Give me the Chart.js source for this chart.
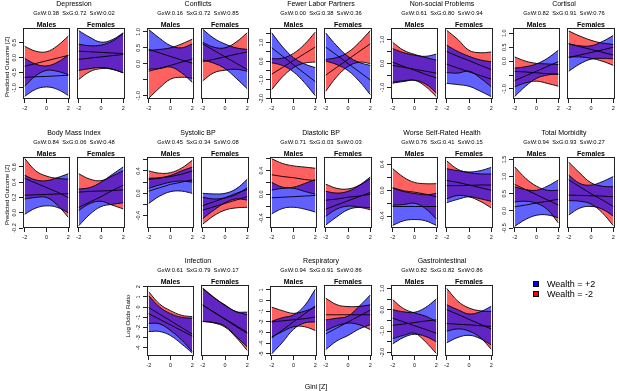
<!DOCTYPE html>
<html><head><meta charset="utf-8">
<script src="https://cdn.jsdelivr.net/npm/chart.js@4.4.1/dist/chart.umd.min.js"></script>
<style>
body{margin:0;background:#fff;}
#wrap{position:relative;width:617px;height:391px;overflow:hidden;background:#fff;font-family:"Liberation Sans",Arial,sans-serif;color:#000;}
.t{position:absolute;transform:translate(-50%,-50%);white-space:pre;line-height:1;}
.rot{transform:translate(-50%,-50%) rotate(-90deg);}
canvas{position:absolute;}
.sw{position:absolute;width:6px;height:6px;border:1px solid #000;box-sizing:border-box;}
</style></head><body><div id="wrap"></div>
<script>
// ---------------- DATA ----------------
const giniX = [-2, -1, 0, 1, 2];
const xTicks = [-2, 0, 2];
const xTickLabels = ['-2', '0', '2'];

const outcomeNames = ['Depression','Conflicts','Fewer Labor Partners','Non-social Problems','Cortisol',
  'Body Mass Index','Systolic BP','Diastolic BP','Worse Self-Rated Health','Total Morbidity',
  'Infection','Respiratory','Gastrointestinal'];
const interactionP = ['GxW:0.38  SxG:0.72  SxW:0.02','GxW:0.16  SxG:0.72  SxW:0.85','GxW:0.00  SxG:0.38  SxW:0.36',
  'GxW:0.61  SxG:0.80  SxW:0.94','GxW:0.82  SxG:0.91  SxW:0.76','GxW:0.84  SxG:0.06  SxW:0.48',
  'GxW:0.45  SxG:0.34  SxW:0.08','GxW:0.71  SxG:0.03  SxW:0.03','GxW:0.76  SxG:0.41  SxW:0.15',
  'GxW:0.94  SxG:0.93  SxW:0.27','GxW:0.61  SxG:0.79  SxW:0.17','GxW:0.94  SxG:0.91  SxW:0.86',
  'GxW:0.82  SxG:0.82  SxW:0.86'];
const sexLabels = ['Males', 'Females'];
const legendLabels = ['Wealth = +2', 'Wealth = -2'];
const yAxisTitles = ['Predicted Outcome [Z]', 'Predicted Outcome [Z]', 'Log Odds Ratio'];
const xAxisTitle = 'Gini [Z]';

const yRanges = [[-1.37,0.99],[-1.1,1.12],[-2.02,1.78],[-1.48,1.48],[-1.36,1.19],
  [-0.2,0.73],[-0.62,0.65],[-0.57,0.63],[-0.58,0.51],[-0.5,1.57],
  [-4.8,2.08],[-5.2,1.38],[-2.17,1.16]];
const yTickValues = [[-1,-0.5,0,0.5],[-1,-0.5,0,0.5,1],[-2,-1.5,-1,-0.5,0,0.5,1,1.5],[-1,-0.5,0,0.5,1],[-1,-0.5,0,0.5,1],
  [-0.2,0,0.2,0.4,0.6],[-0.4,-0.2,0,0.2,0.4,0.6],[-0.4,-0.2,0,0.2,0.4,0.6],[-0.4,-0.2,0,0.2,0.4],[-0.5,0,0.5,1,1.5],
  [-4,-3,-2,-1,0,1,2],[-5,-4,-3,-2,-1,0,1],[-2,-1.5,-1,-0.5,0,0.5,1]];
const yTickLabels = [['-1.0','-0.5','0.0','0.5'],['-1.0','','0.0','0.5','1.0'],['-2.0','','-1.0','','0.0','','1.0',''],
  ['-1.0','','0.0','','1.0'],['-1.0','','0.0','0.5','1.0'],
  ['-0.2','0.0','0.2','0.4','0.6'],['-0.4','','0.0','','0.4',''],['-0.4','','0.0','','0.4',''],['-0.4','','0.0','','0.4'],
  ['-0.5','0.0','0.5','1.0','1.5'],
  ['-4','-3','-2','-1','0','1','2'],['-5','-4','-3','-2','-1','0','1'],['-2.0','','-1.0','','0.0','','1.0']];

// bands: plus = Wealth +2 (blue), minus = Wealth -2 (red); values at giniX
const dep_M_plus  = {lower:[-1.28,-1.05,-0.97,-1.05,-1.25], fit:[-0.65,-0.63,-0.62,-0.60,-0.58], upper:[-0.02,-0.21,-0.27,-0.15,0.09]};
const dep_M_minus = {lower:[-0.94,-0.60,-0.42,-0.45,-0.56], fit:[-0.28,-0.19,-0.10,-0.01,0.08], upper:[0.38,0.22,0.20,0.40,0.72]};
const dep_F_plus  = {lower:[-0.42,-0.36,-0.32,-0.38,-0.50], fit:[0.22,0.20,0.18,0.16,0.14], upper:[0.90,0.68,0.52,0.60,0.83]};
const dep_F_minus = {lower:[-0.72,-0.46,-0.36,-0.38,-0.50], fit:[-0.05,-0.01,0.03,0.07,0.11], upper:[0.45,0.40,0.42,0.55,0.80]};

const con_M_plus  = {lower:[-0.17,-0.15,-0.10,-0.28,-0.58], fit:[0.45,0.34,0.23,0.12,0.02], upper:[1.07,0.80,0.57,0.50,0.62]};
const con_M_minus = {lower:[-1.08,-0.75,-0.48,-0.42,-0.45], fit:[-0.23,-0.14,-0.05,0.05,0.15], upper:[0.42,0.45,0.50,0.62,0.77]};
const con_F_plus  = {lower:[0.12,0.02,-0.15,-0.45,-0.78], fit:[0.62,0.42,0.22,0.02,-0.18], upper:[1.08,0.80,0.62,0.50,0.45]};
const con_F_minus = {lower:[-0.53,-0.28,-0.20,-0.17,-0.23], fit:[0.07,0.14,0.22,0.30,0.37], upper:[0.67,0.52,0.50,0.68,0.97]};

const flp_M_plus  = {lower:[-0.08,-0.23,-0.57,-1.14,-1.84], fit:[0.72,0.27,-0.19,-0.64,-1.09], upper:[1.52,0.77,0.19,-0.14,-0.34]};
const flp_M_minus = {lower:[-1.51,-0.83,-0.34,-0.10,-0.04], fit:[-0.69,-0.33,0.04,0.40,0.76], upper:[0.13,0.17,0.42,0.90,1.56]};
const flp_F_plus  = {lower:[0.01,-0.18,-0.50,-1.06,-1.78], fit:[0.76,0.32,-0.12,-0.56,-1.00], upper:[1.51,0.82,0.26,-0.06,-0.22]};
const flp_F_minus = {lower:[-1.60,-0.82,-0.28,-0.05,-0.12], fit:[-0.74,-0.32,0.10,0.52,0.93], upper:[0.10,0.20,0.48,1.00,1.64]};

const nsp_M_plus  = {lower:[-0.82,-0.75,-0.70,-0.85,-1.22], fit:[-0.08,-0.16,-0.24,-0.32,-0.40], upper:[0.62,0.45,0.35,0.30,0.39]};
const nsp_M_minus = {lower:[-0.78,-0.72,-0.70,-0.95,-1.38], fit:[0.05,-0.12,-0.28,-0.45,-0.60], upper:[0.88,0.55,0.38,0.25,0.14]};
const nsp_F_plus  = {lower:[-0.83,-0.88,-0.95,-1.15,-1.38], fit:[-0.03,-0.19,-0.35,-0.50,-0.65], upper:[0.76,0.50,0.30,0.15,0.07]};
const nsp_F_minus = {lower:[-0.38,-0.40,-0.32,-0.60,-0.97], fit:[0.50,0.30,0.12,-0.07,-0.25], upper:[1.38,1.00,0.55,0.45,0.48]};

const cor_M_plus  = {lower:[-1.27,-0.90,-0.62,-0.50,-0.45], fit:[-0.70,-0.53,-0.36,-0.19,-0.02], upper:[-0.25,-0.20,-0.10,0.10,0.39]};
const cor_M_minus = {lower:[-0.92,-0.78,-0.72,-0.80,-0.90], fit:[-0.37,-0.39,-0.42,-0.45,-0.48], upper:[0.15,0.00,-0.08,-0.10,-0.12]};
const cor_F_plus  = {lower:[-0.36,-0.10,0.07,0.10,0.08], fit:[0.13,0.22,0.31,0.40,0.50], upper:[0.62,0.55,0.55,0.70,0.92]};
const cor_F_minus = {lower:[0.15,0.15,0.10,0.00,-0.15], fit:[0.62,0.52,0.42,0.32,0.22], upper:[1.08,0.90,0.75,0.65,0.60]};

const bmi_M_plus  = {lower:[-0.02,0.06,0.09,0.07,0.00], fit:[0.23,0.235,0.24,0.245,0.25], upper:[0.49,0.43,0.42,0.46,0.51]};
const bmi_M_minus = {lower:[0.18,0.20,0.20,0.10,-0.06], fit:[0.45,0.39,0.33,0.27,0.20], upper:[0.71,0.55,0.48,0.45,0.44]};
const bmi_F_plus  = {lower:[-0.17,-0.02,0.08,0.11,0.13], fit:[0.07,0.14,0.21,0.29,0.36], upper:[0.31,0.33,0.40,0.50,0.60]};
const bmi_F_minus = {lower:[0.03,0.12,0.15,0.10,0.05], fit:[0.27,0.28,0.285,0.29,0.30], upper:[0.51,0.44,0.42,0.48,0.55]};

const sbp_M_plus  = {lower:[-0.18,-0.05,0.03,0.04,0.00], fit:[0.04,0.10,0.16,0.20,0.24], upper:[0.27,0.28,0.32,0.40,0.47]};
const sbp_M_minus = {lower:[0.09,0.15,0.20,0.22,0.20], fit:[0.25,0.27,0.30,0.34,0.40], upper:[0.40,0.36,0.37,0.45,0.59]};
const sbp_F_plus  = {lower:[-0.45,-0.30,-0.17,-0.10,-0.12], fit:[-0.22,-0.15,-0.08,0.00,0.07], upper:[0.00,-0.01,0.00,0.08,0.25]};
const sbp_F_minus = {lower:[-0.55,-0.40,-0.30,-0.26,-0.25], fit:[-0.30,-0.24,-0.18,-0.12,-0.06], upper:[-0.07,-0.10,-0.08,-0.02,0.10]};

const dbp_M_plus  = {lower:[-0.33,-0.24,-0.22,-0.25,-0.30], fit:[-0.06,-0.05,-0.04,-0.03,-0.02], upper:[0.20,0.12,0.12,0.18,0.25]};
const dbp_M_minus = {lower:[0.07,0.10,0.10,0.05,0.00], fit:[0.33,0.30,0.28,0.25,0.23], upper:[0.60,0.52,0.48,0.46,0.44]};
const dbp_F_plus  = {lower:[-0.52,-0.38,-0.26,-0.22,-0.23], fit:[-0.25,-0.18,-0.11,-0.04,0.03], upper:[0.05,0.02,0.05,0.15,0.29]};
const dbp_F_minus = {lower:[-0.37,-0.25,-0.20,-0.22,-0.26], fit:[-0.10,-0.08,-0.05,-0.03,0.00], upper:[0.17,0.10,0.09,0.15,0.26]};

const srh_M_plus  = {lower:[-0.54,-0.47,-0.45,-0.47,-0.54], fit:[-0.25,-0.25,-0.25,-0.25,-0.25], upper:[0.03,-0.02,-0.05,-0.07,-0.05]};
const srh_M_minus = {lower:[-0.23,-0.22,-0.20,-0.28,-0.44], fit:[0.04,-0.01,-0.03,-0.06,-0.10], upper:[0.33,0.20,0.12,0.10,0.10]};
const srh_F_plus  = {lower:[-0.19,-0.14,-0.10,-0.13,-0.17], fit:[0.07,0.07,0.075,0.08,0.08], upper:[0.33,0.30,0.28,0.30,0.35]};
const srh_F_minus = {lower:[-0.13,-0.08,-0.10,-0.17,-0.27], fit:[0.15,0.12,0.08,0.04,0.00], upper:[0.45,0.32,0.27,0.25,0.25]};

const tmb_M_plus  = {lower:[-0.45,-0.25,-0.13,-0.12,-0.20], fit:[0.12,0.17,0.23,0.28,0.34], upper:[0.70,0.62,0.60,0.72,0.90]};
const tmb_M_minus = {lower:[0.26,0.28,0.22,0.04,-0.35], fit:[0.77,0.62,0.47,0.32,0.17], upper:[1.28,0.95,0.72,0.60,0.60]};
const tmb_F_plus  = {lower:[-0.12,0.08,0.13,0.05,-0.15], fit:[0.46,0.45,0.44,0.43,0.41], upper:[1.04,0.80,0.75,0.85,1.00]};
const tmb_F_minus = {lower:[0.30,0.28,0.20,-0.05,-0.43], fit:[0.90,0.70,0.50,0.32,0.13], upper:[1.42,1.10,0.82,0.72,0.70]};

const inf_M_plus  = {lower:[-2.40,-2.40,-2.80,-3.60,-4.50], fit:[-0.65,-1.20,-1.75,-2.30,-2.85], upper:[1.10,0.00,-0.65,-1.00,-1.10]};
const inf_M_minus = {lower:[-1.60,-1.65,-2.30,-3.20,-4.35], fit:[-0.05,-0.70,-1.35,-2.00,-2.65], upper:[1.50,0.30,-0.35,-0.80,-0.95]};
const inf_F_plus  = {lower:[-1.45,-1.55,-1.90,-2.90,-3.90], fit:[0.10,-0.55,-1.20,-1.85,-2.50], upper:[1.70,0.85,0.15,-0.50,-0.55]};
const inf_F_minus = {lower:[-1.45,-1.60,-2.00,-3.00,-4.25], fit:[0.15,-0.55,-1.25,-1.95,-2.60], upper:[1.78,0.90,0.10,-0.50,-0.80]};

const res_M_plus  = {lower:[-5.00,-3.90,-2.70,-2.10,-2.00], fit:[-3.50,-2.75,-2.00,-1.25,-0.50], upper:[-1.95,-1.60,-1.35,-0.50,1.05]};
const res_M_minus = {lower:[-3.40,-2.90,-2.45,-2.45,-2.80], fit:[-2.00,-1.90,-1.80,-1.70,-1.55], upper:[-0.62,-0.95,-1.20,-1.00,-0.62]};
const res_F_plus  = {lower:[-4.60,-3.80,-3.30,-2.70,-2.30], fit:[-3.15,-2.60,-2.05,-1.50,-0.95], upper:[-1.85,-1.70,-1.50,-0.60,0.45]};
const res_F_minus = {lower:[-2.85,-2.40,-2.15,-2.30,-2.75], fit:[-1.38,-1.38,-1.38,-1.38,-1.38], upper:[0.15,-0.45,-0.62,-0.60,-0.46]};

const gas_M_plus  = {lower:[-1.60,-1.30,-1.15,-1.25,-1.50], fit:[-0.73,-0.67,-0.60,-0.53,-0.47], upper:[0.00,-0.10,-0.12,0.10,0.50]};
const gas_M_minus = {lower:[-1.35,-1.20,-1.10,-1.50,-2.05], fit:[-0.40,-0.57,-0.75,-0.92,-1.10], upper:[0.47,0.05,-0.15,-0.30,-0.55]};
const gas_F_plus  = {lower:[-1.55,-1.30,-1.20,-1.35,-1.65], fit:[-0.65,-0.68,-0.71,-0.75,-0.78], upper:[0.23,0.00,-0.20,-0.10,0.16]};
const gas_F_minus = {lower:[-1.00,-0.90,-1.00,-1.30,-1.85], fit:[0.00,-0.22,-0.45,-0.68,-0.90], upper:[1.00,0.40,0.08,-0.05,-0.08]};

const panelBands = [
  [dep_M_plus, dep_M_minus, dep_F_plus, dep_F_minus],
  [con_M_plus, con_M_minus, con_F_plus, con_F_minus],
  [flp_M_plus, flp_M_minus, flp_F_plus, flp_F_minus],
  [nsp_M_plus, nsp_M_minus, nsp_F_plus, nsp_F_minus],
  [cor_M_plus, cor_M_minus, cor_F_plus, cor_F_minus],
  [bmi_M_plus, bmi_M_minus, bmi_F_plus, bmi_F_minus],
  [sbp_M_plus, sbp_M_minus, sbp_F_plus, sbp_F_minus],
  [dbp_M_plus, dbp_M_minus, dbp_F_plus, dbp_F_minus],
  [srh_M_plus, srh_M_minus, srh_F_plus, srh_F_minus],
  [tmb_M_plus, tmb_M_minus, tmb_F_plus, tmb_F_minus],
  [inf_M_plus, inf_M_minus, inf_F_plus, inf_F_minus],
  [res_M_plus, res_M_minus, res_F_plus, res_F_minus],
  [gas_M_plus, gas_M_minus, gas_F_plus, gas_F_minus]
];

// ---------------- LAYOUT / STYLE ----------------
const FONT = '"Liberation Sans", Arial, sans-serif';
const BLUE = 'rgba(0,0,255,0.62)', RED = 'rgba(255,0,0,0.62)', LINE = '#000', AXIS = '#222';
const TICK_SIZE = 5.5;
const colLeft = [23, 147, 270, 391, 513];
const rowTop = [28, 157, 285];
const slots = [[0,0],[0,1],[0,2],[0,3],[0,4],[1,0],[1,1],[1,2],[1,3],[1,4],[2,1],[2,2],[2,3]];
const MW = 47, FOFF = 54, FW = 48, BOX_H = 71;
const PADL = 20, PADT = 5, PADR = 8, PADB = 18;

const wrap = document.getElementById('wrap');
function text(str, x, y, size, extra) {
  const d = document.createElement('div');
  d.className = 't' + (extra && extra.rot ? ' rot' : '');
  d.textContent = str;
  d.style.left = x + 'px'; d.style.top = y + 'px';
  d.style.fontSize = size + 'px';
  if (extra && extra.bold) d.style.fontWeight = 'bold';
  wrap.appendChild(d);
}
const mctx = document.createElement('canvas').getContext('2d');
mctx.font = TICK_SIZE + 'px ' + FONT;

const framePlugin = {
  id: 'frame',
  afterDatasetsDraw(chart) {
    const {ctx, chartArea: a} = chart;
    ctx.save();
    ctx.strokeStyle = AXIS; ctx.lineWidth = 1;
    ctx.strokeRect(Math.round(a.left) + 0.5, Math.round(a.top) + 0.5, Math.round(a.right - a.left) - 1, Math.round(a.bottom - a.top) - 1);
    ctx.restore();
  }
};

function pts(arr) { return giniX.map((x, i) => ({x: x, y: arr[i]})); }

function makePanel(boxLeft, boxTop, boxW, showY, oi, plus, minus) {
  const cv = document.createElement('canvas');
  const W = PADL + boxW + PADR, H = PADT + BOX_H + PADB;
  cv.width = W; cv.height = H;
  cv.style.width = W + 'px'; cv.style.height = H + 'px';
  cv.style.left = (boxLeft - PADL) + 'px'; cv.style.top = (boxTop - PADT) + 'px';
  wrap.appendChild(cv);
  const labels = yTickLabels[oi];
  let widest = 0;
  labels.forEach(l => { widest = Math.max(widest, mctx.measureText(l).width); });
  const ypad = 5 - widest / 2;
  const band = (b, col) => [
    {data: pts(b.upper), fill: '+1', backgroundColor: col, borderColor: LINE, borderWidth: 0.9, tension: 0.4},
    {data: pts(b.lower), fill: false, borderColor: LINE, borderWidth: 0.9, tension: 0.4}
  ];
  new Chart(cv, {
    type: 'line',
    data: {datasets: [
      ...band(plus, BLUE), ...band(minus, RED),
      {data: pts(plus.fit), fill: false, borderColor: LINE, borderWidth: 0.9, tension: 0},
      {data: pts(minus.fit), fill: false, borderColor: LINE, borderWidth: 0.9, tension: 0}
    ]},
    options: {
      responsive: false, animation: false, devicePixelRatio: 1, events: [],
      layout: {padding: {left: 0, top: PADT, right: PADR, bottom: 0}},
      elements: {point: {radius: 0}},
      plugins: {legend: {display: false}, tooltip: {enabled: false}, filler: {drawTime: 'beforeDatasetsDraw'}},
      scales: {
        x: {
          type: 'linear', min: -2.16, max: 2.16,
          afterBuildTicks: s => { s.ticks = xTicks.map(v => ({value: v})); },
          afterFit: s => { s.height = PADB; },
          grid: {display: true, drawOnChartArea: false, drawTicks: true, tickLength: 4, color: AXIS, lineWidth: 1},
          border: {display: false},
          ticks: {font: {family: FONT, size: TICK_SIZE}, color: '#111', padding: 2.5, maxRotation: 0, minRotation: 0, autoSkip: false,
                  callback: (v, i) => xTickLabels[i]}
        },
        y: {
          type: 'linear', min: yRanges[oi][0], max: yRanges[oi][1],
          afterBuildTicks: s => { s.ticks = yTickValues[oi].map(v => ({value: v})); },
          afterFit: s => { s.width = PADL; },
          grid: {display: showY, drawOnChartArea: false, drawTicks: true, tickLength: 4, color: AXIS, lineWidth: 1},
          border: {display: false},
          ticks: {display: showY, font: {family: FONT, size: TICK_SIZE}, color: '#111', padding: ypad,
                  minRotation: 90, maxRotation: 90, crossAlign: 'center', autoSkip: false,
                  callback: (v, i) => labels[i]}
        }
      }
    },
    plugins: [framePlugin]
  });
}

outcomeNames.forEach((name, oi) => {
  const [r, c] = slots[oi];
  const L = colLeft[c], T = rowTop[r];
  const b = panelBands[oi];
  makePanel(L, T, MW, true, oi, b[0], b[1]);
  makePanel(L + FOFF, T, FW, false, oi, b[2], b[3]);
  text(name, L + (FOFF + FW) / 2, T - 25, 7);
  text(interactionP[oi], L + (FOFF + FW) / 2, T - 14.5, 5.8);
  text(sexLabels[0], L + MW / 2, T - 4, 7, {bold: true});
  text(sexLabels[1], L + FOFF + FW / 2, T - 4, 7, {bold: true});
});

text(yAxisTitles[0], 6.5, rowTop[0] + BOX_H / 2 + 3, 6, {rot: true});
text(yAxisTitles[1], 6.5, rowTop[1] + BOX_H / 2 + 2, 6, {rot: true});
text(yAxisTitles[2], 128, 316, 6.2, {rot: true});
text(xAxisTitle, 316, 386, 7);

// legend
const legendColors = ['#0000ff', '#ff0000'];
legendLabels.forEach((l, i) => {
  const s = document.createElement('div');
  s.className = 'sw';
  s.style.left = '533px'; s.style.top = (281 + i * 10) + 'px';
  s.style.background = legendColors[i];
  wrap.appendChild(s);
  const d = document.createElement('div');
  d.className = 't';
  d.style.transform = 'translate(0,-50%)';
  d.style.left = '547px'; d.style.top = (284 + i * 10) + 'px';
  d.style.fontSize = '9px';
  d.textContent = l;
  wrap.appendChild(d);
});
</script></body></html>
